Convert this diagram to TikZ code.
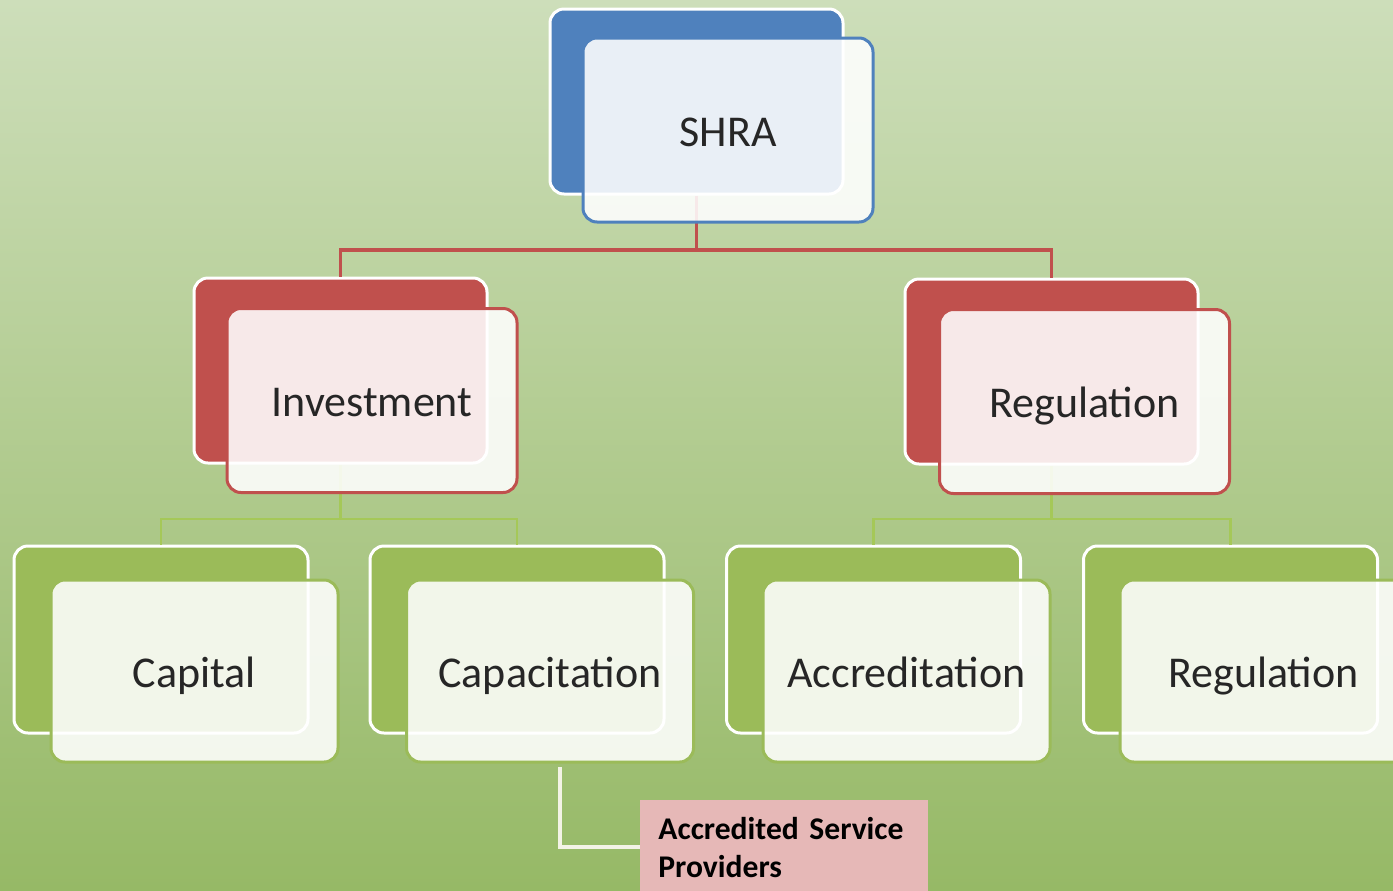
\documentclass[tikz,border=0pt]{standalone}
\usepackage{fontspec}
\setmainfont{Carlito}
\usetikzlibrary{positioning}
\definecolor{bgtop}{RGB}{205,222,186}
\definecolor{bgmid}{RGB}{178,204,146}
\definecolor{bgbot}{RGB}{150,185,102}
\definecolor{hblue}{RGB}{79,129,189}
\definecolor{hred}{RGB}{192,80,77}
\definecolor{hgreen}{RGB}{155,187,89}
\definecolor{gline}{RGB}{165,200,88}
\definecolor{cpink}{RGB}{230,184,183}
\definecolor{wline}{RGB}{243,243,230}
\tikzset{%
	back/.style = {name = #1, draw = white, line width = 1.5pt, rounded corners = 7pt, inner sep = 0pt, minimum width = 146.5pt, minimum height = 92.5pt},
	front/.style = {name = #1, line width = 1.5pt, rounded corners = 7pt, fill = white, fill opacity = 0.88, text opacity = 1, text = black!85, minimum width = 145pt, minimum height = 92pt, text height = 20pt, text depth = 4pt, font = \fontsize{22}{26}\selectfont},
	leafb/.style = {back = #1, fill = hgreen, minimum width = 147pt, minimum height = 93.5pt},
	leaff/.style = {front = #1, draw = hgreen, minimum width = 143.5pt, minimum height = 91pt},
	redc/.style = {draw = hred, line width = 1.8pt},
	greenc/.style = {draw = gline, line width = 1.1pt},
	callc/.style = {draw = wline, line width = 2pt},
	note/.style = {name = #1, anchor = north west, fill = cpink, minimum width = 144pt, minimum height = 47pt, text width = 126pt, inner xsep = 9pt, align = left, font = \bfseries\fontsize{15.8}{19}\selectfont}
}
\begin{document}
\begin{tikzpicture}[x=0.5pt, y=-0.5pt]
			\useasboundingbox (0,0) rectangle (1393,890);
			\fill [top color = bgtop, middle color = bgmid, bottom color = bgbot] (0,0) rectangle (1393,890);
			\node [back = SHRAb, fill = hblue] at (696.5,101.5) {};
			\node [back = Invb, fill = hred] at (340.5,370.5) {};
			\node [back = Regb, fill = hred] at (1051.5,371.5) {};
			\node [leafb = Capb] at (161,639.5) {};
			\node [leafb = Capacb] at (517,639.5) {};
			\node [leafb = Accrb] at (873.5,639.5) {};
			\node [leafb = Reg2b] at (1230.5,639.5) {};
			\coordinate (t) at (696.5,250);
			\coordinate (l) at (340.5,519);
			\coordinate (r) at (1051.5,519);
			\coordinate (c) at (560,767);
			\draw [redc] (SHRAb) -- (t) -| (Invb);
			\draw [redc] (t) -| (Regb);
			\draw [greenc] (Invb) -- (l) -| (Capb);
			\draw [greenc] (l) -| (Capacb);
			\draw [greenc] (Regb) -- (r) -| (Accrb);
			\draw [greenc] (r) -| (Reg2b);
			\node [front = SHRA, draw = hblue] at (728,130) {SHRA};
			\node [front = Inv, draw = hred] at (372,400.5) {Investment};
			\node [front = Reg, draw = hred] at (1084.5,401.5) {Regulation};
			\node [leaff = Cap] at (194.5,671) {Capital};
			\node [leaff = Capac] at (550,671) {Capacitation};
			\node [leaff = Accr] at (906.5,671) {Accreditation};
			\node [leaff = Reg2] at (1263.5,671) {Regulation};
			\node [note = ASP] at (640,800) {Accredited Service\\Providers};
			\draw [callc] (c) |- (ASP);
			\end{tikzpicture}
\end{document}
